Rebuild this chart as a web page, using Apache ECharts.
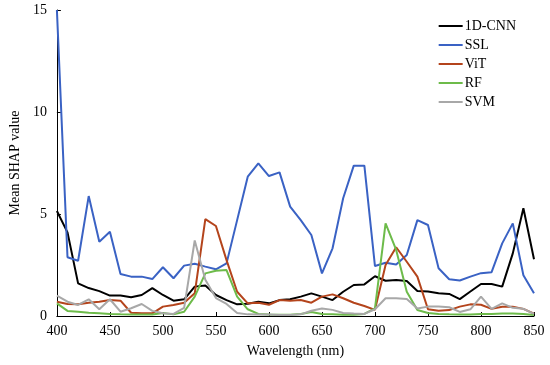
<!DOCTYPE html>
<html><head><meta charset="utf-8">
<script src="https://cdn.jsdelivr.net/npm/echarts@6/dist/echarts.min.js"></script>
<style>html,body{margin:0;padding:0;background:#fff}#c{width:550px;height:365px}</style>
</head><body><div id="c"></div>
<script>
const wavelengths = [400,410,420,430,440,450,460,470,480,490,500,510,520,530,540,550,560,570,580,590,600,610,620,630,640,650,660,670,680,690,700,710,720,730,740,750,760,770,780,790,800,810,820,830,840,850];
const cnn = [5.15,4.1,1.6,1.37,1.22,1.0,1.0,0.92,1.03,1.37,1.03,0.75,0.82,1.44,1.49,1.03,0.78,0.57,0.6,0.7,0.62,0.78,0.82,0.95,1.11,0.95,0.78,1.19,1.52,1.55,1.95,1.73,1.76,1.72,1.23,1.2,1.11,1.08,0.83,1.2,1.57,1.57,1.44,3.07,5.28,2.78];
const ssl = [15,2.88,2.71,5.88,3.64,4.13,2.06,1.93,1.93,1.81,2.39,1.85,2.47,2.56,2.42,2.29,2.58,4.7,6.83,7.48,6.86,7.04,5.36,4.7,3.97,2.09,3.32,5.77,7.37,7.37,2.45,2.61,2.53,2.99,4.7,4.46,2.34,1.8,1.74,1.93,2.1,2.15,3.56,4.54,2.0,1.11];
const vit = [0.7,0.59,0.58,0.65,0.7,0.78,0.75,0.16,0.13,0.13,0.46,0.54,0.65,1.11,4.75,4.41,2.74,1.19,0.62,0.65,0.55,0.78,0.75,0.78,0.65,0.95,1.06,0.87,0.65,0.49,0.3,2.5,3.37,2.66,1.93,0.33,0.26,0.29,0.46,0.57,0.55,0.35,0.45,0.45,0.35,0.12];
const rf = [0.62,0.25,0.21,0.16,0.13,0.1,0.08,0.07,0.07,0.07,0.15,0.08,0.21,0.95,2.09,2.22,2.25,0.95,0.33,0.1,0.07,0.06,0.06,0.1,0.2,0.1,0.08,0.06,0.06,0.1,0.37,4.54,3.24,1.19,0.29,0.15,0.1,0.08,0.07,0.07,0.1,0.1,0.12,0.12,0.1,0.05];
const svm = [1.0,0.7,0.54,0.82,0.33,0.82,0.21,0.38,0.59,0.25,0.13,0.1,0.4,3.7,1.78,0.88,0.59,0.15,0.08,0.07,0.07,0.05,0.05,0.08,0.26,0.37,0.3,0.15,0.12,0.1,0.33,0.87,0.87,0.83,0.37,0.46,0.46,0.43,0.2,0.33,0.95,0.35,0.62,0.4,0.35,0.1];
const seriesNames = ['1D-CNN','SSL','ViT','RF','SVM'];
const seriesColors = ['#000000','#3A62C4','#B4441C','#6DBB4A','#A8A8A8'];
const seriesData = [cnn, ssl, vit, rf, svm];

const font = 'Liberation Serif, Times New Roman, serif';
const chart = echarts.init(document.getElementById('c'));
chart.setOption({
  animation: false,
  grid: {left: 47, right: 16, top: 10, bottom: 49},
  legend: {
    orient: 'vertical', right: 29, top: 14, itemGap: 5, itemWidth: 24, itemHeight: 2,
    icon: 'rect',
    textStyle: {fontFamily: font, fontSize: 14, color: '#000', padding: [0,0,0,-3]},
    data: seriesNames
  },
  xAxis: {
    type: 'value', min: 400, max: 850, interval: 50,
    name: 'Wavelength (nm)', nameLocation: 'middle', nameGap: 28,
    nameTextStyle: {fontFamily: font, fontSize: 14, color: '#000'},
    axisLine: {onZero: false, lineStyle: {color: '#000', width: 1}},
    axisTick: {inside: true, length: 4, lineStyle: {color: '#000'}},
    axisLabel: {fontFamily: font, fontSize: 14, color: '#000', margin: 8},
    splitLine: {show: false}
  },
  yAxis: {
    type: 'value', min: 0, max: 15, interval: 5,
    name: 'Mean SHAP value', nameLocation: 'middle', nameGap: 27,
    nameTextStyle: {fontFamily: font, fontSize: 14, color: '#000'},
    axisLine: {show: true, lineStyle: {color: '#000', width: 1}},
    axisTick: {show: true, inside: true, length: 4, lineStyle: {color: '#000'}},
    axisLabel: {fontFamily: font, fontSize: 14, color: '#000', margin: 10},
    splitLine: {show: false}
  },
  series: seriesNames.map((n, i) => ({
    name: n, type: 'line', symbol: 'none', color: seriesColors[i],
    lineStyle: {width: 2, color: seriesColors[i]},
    data: wavelengths.map((w, j) => [w, seriesData[i][j]])
  }))
});
</script></body></html>
